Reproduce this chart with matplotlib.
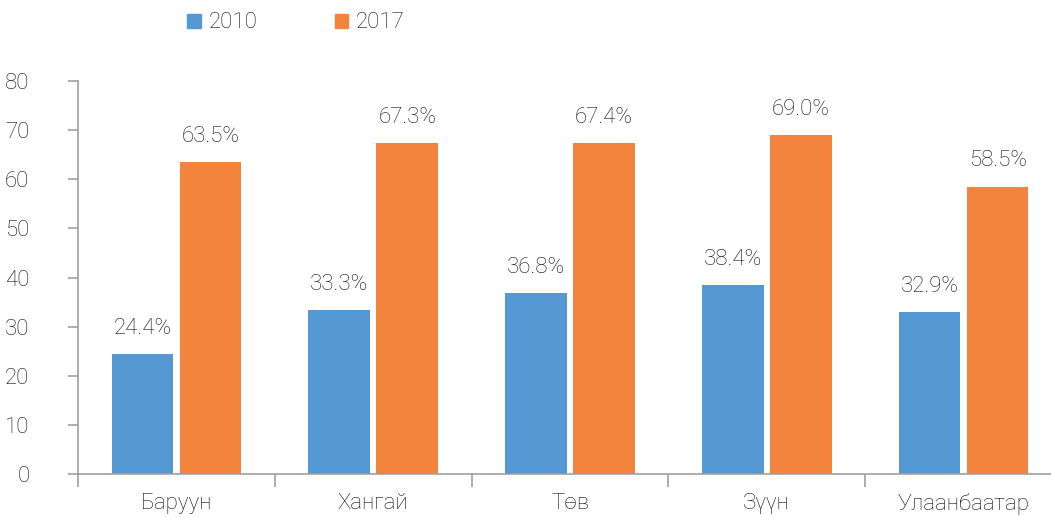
import numpy as np
import matplotlib.pyplot as plt
from matplotlib.patches import Patch

regions = ['Баруун', 'Хангай', 'Төв', 'Зүүн', 'Улаанбаатар']
vals_2010 = [24.4, 33.3, 36.8, 38.4, 32.9]
vals_2017 = [63.5, 67.3, 67.4, 69.0, 58.5]
yticks = [0, 10, 20, 30, 40, 50, 60, 70, 80]

blue = '#5599D4'
orange = '#F3843E'
txt = '#101010'
axc = '#A0A0A0'

plt.rcParams['font.family'] = ['Roboto', 'DejaVu Sans']
plt.rcParams['font.weight'] = 'light'
plt.rcParams['font.size'] = 16

fig = plt.figure(figsize=(10.51, 5.17), dpi=100)
W, H = 1051, 517
ax = fig.add_axes([78 / W, 43 / H, 984 / W, 393 / H])

x = np.arange(len(regions))
bw = 0.313
off = 0.173
b1 = ax.bar(x - off, vals_2010, bw, color=blue)
b2 = ax.bar(x + off, vals_2017, bw, color=orange)

for bars, vals in ((b1, vals_2010), (b2, vals_2017)):
    for b, v in zip(bars, vals):
        ax.annotate(f'{v:.1f}%', (b.get_x() + b.get_width() / 2, v),
                    xytext=(0, 11), textcoords='offset points',
                    ha='center', va='bottom', color=txt, fontsize=16)

ax.set_xlim(-0.5, len(regions) - 0.5)
ax.set_ylim(0, 80)
ax.set_yticks(yticks)
ax.set_yticklabels([str(t) for t in yticks])
ax.set_xticks(x)
ax.set_xticklabels(regions)
ax.set_xticks(np.arange(len(regions) + 1) - 0.5, minor=True)
ax.tick_params(axis='x', which='major', length=0, pad=14, colors=txt, labelsize=16)
ax.tick_params(axis='x', which='minor', length=9, color=axc, width=1.2)
ax.tick_params(axis='y', length=7, color=axc, width=1.2, pad=28, colors=txt, labelsize=16)
ax.tick_params(axis='y', color=axc)

for s in ['top', 'right']:
    ax.spines[s].set_visible(False)
for s in ['left', 'bottom']:
    ax.spines[s].set_color(axc)
    ax.spines[s].set_linewidth(1.2)

handles = [Patch(color=blue, label='2010'), Patch(color=orange, label='2017')]
fig.legend(handles=handles, loc='center', bbox_to_anchor=(296 / W, 1 - 23 / H),
           ncol=2, frameon=False, handlelength=0.6, handleheight=0.6,
           handletextpad=0.35, columnspacing=3.5, fontsize=16, labelcolor=txt)

fig.savefig('out.png', dpi=100)
